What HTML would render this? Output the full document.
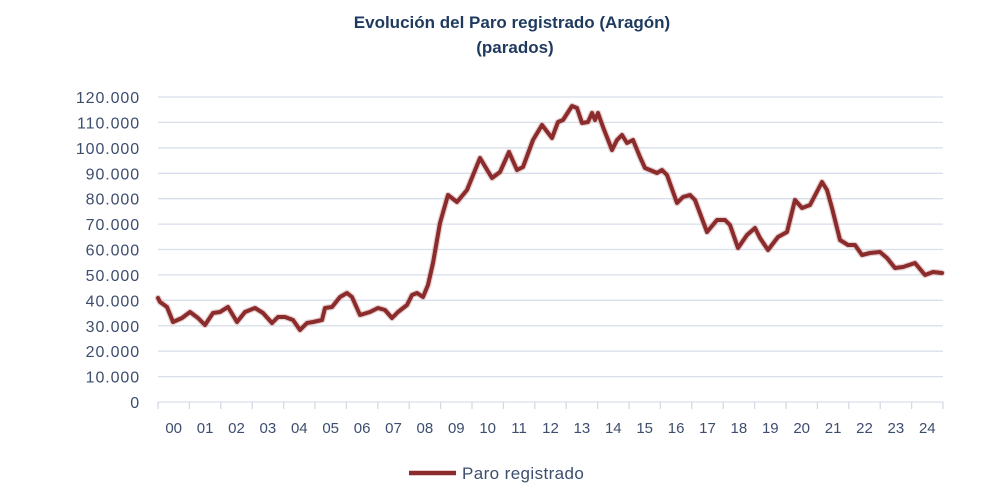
<!DOCTYPE html>
<html>
<head>
<meta charset="utf-8">
<style>
html,body{margin:0;padding:0;background:#fff;}
body{width:990px;height:491px;overflow:hidden;}
svg{display:block;}
</style>
</head>
<body>
<svg width="990" height="491" viewBox="0 0 990 491" xmlns="http://www.w3.org/2000/svg">
<rect width="990" height="491" fill="#fff"/>
<g font-family="'Liberation Sans', sans-serif" font-weight="bold" font-size="17" fill="#1F3A5F" text-anchor="middle">
<text x="512" y="28">Evolución del Paro registrado (Aragón)</text>
<text x="515" y="53">(parados)</text>
</g>
<g stroke="#D9DFEA" stroke-width="1.3">
<line x1="158" y1="97" x2="943" y2="97"/>
<line x1="158" y1="122.4" x2="943" y2="122.4"/>
<line x1="158" y1="147.8" x2="943" y2="147.8"/>
<line x1="158" y1="173.3" x2="943" y2="173.3"/>
<line x1="158" y1="198.7" x2="943" y2="198.7"/>
<line x1="158" y1="224.1" x2="943" y2="224.1"/>
<line x1="158" y1="249.5" x2="943" y2="249.5"/>
<line x1="158" y1="274.9" x2="943" y2="274.9"/>
<line x1="158" y1="300.3" x2="943" y2="300.3"/>
<line x1="158" y1="325.8" x2="943" y2="325.8"/>
<line x1="158" y1="351.2" x2="943" y2="351.2"/>
<line x1="158" y1="376.6" x2="943" y2="376.6"/>
<line x1="158" y1="402" x2="943" y2="402"/>
</g>
<g stroke="#D4D9E4" stroke-width="1.3" id="ticks">
<line x1="158" y1="402" x2="158" y2="409"/>
<line x1="189.4" y1="402" x2="189.4" y2="409"/>
<line x1="220.8" y1="402" x2="220.8" y2="409"/>
<line x1="252.2" y1="402" x2="252.2" y2="409"/>
<line x1="283.6" y1="402" x2="283.6" y2="409"/>
<line x1="315" y1="402" x2="315" y2="409"/>
<line x1="346.4" y1="402" x2="346.4" y2="409"/>
<line x1="377.8" y1="402" x2="377.8" y2="409"/>
<line x1="409.2" y1="402" x2="409.2" y2="409"/>
<line x1="440.6" y1="402" x2="440.6" y2="409"/>
<line x1="472" y1="402" x2="472" y2="409"/>
<line x1="503.4" y1="402" x2="503.4" y2="409"/>
<line x1="534.8" y1="402" x2="534.8" y2="409"/>
<line x1="566.2" y1="402" x2="566.2" y2="409"/>
<line x1="597.6" y1="402" x2="597.6" y2="409"/>
<line x1="629" y1="402" x2="629" y2="409"/>
<line x1="660.4" y1="402" x2="660.4" y2="409"/>
<line x1="691.8" y1="402" x2="691.8" y2="409"/>
<line x1="723.2" y1="402" x2="723.2" y2="409"/>
<line x1="754.6" y1="402" x2="754.6" y2="409"/>
<line x1="786" y1="402" x2="786" y2="409"/>
<line x1="817.4" y1="402" x2="817.4" y2="409"/>
<line x1="848.8" y1="402" x2="848.8" y2="409"/>
<line x1="880.2" y1="402" x2="880.2" y2="409"/>
<line x1="911.6" y1="402" x2="911.6" y2="409"/>
<line x1="943" y1="402" x2="943" y2="409"/>
</g>
<g font-family="'Liberation Sans', sans-serif" font-size="16" fill="#3D4D6E" text-anchor="end" letter-spacing="0.9">
<text x="140" y="103">120.000</text>
<text x="140" y="128.4">110.000</text>
<text x="140" y="153.8">100.000</text>
<text x="140" y="179.3">90.000</text>
<text x="140" y="204.7">80.000</text>
<text x="140" y="230.1">70.000</text>
<text x="140" y="255.5">60.000</text>
<text x="140" y="280.9">50.000</text>
<text x="140" y="306.3">40.000</text>
<text x="140" y="331.8">30.000</text>
<text x="140" y="357.2">20.000</text>
<text x="140" y="382.6">10.000</text>
<text x="140" y="408">0</text>
</g>
<g font-family="'Liberation Sans', sans-serif" font-size="15" fill="#3D4D6E" text-anchor="middle">
<text x="173.7" y="433">00</text>
<text x="205.1" y="433">01</text>
<text x="236.5" y="433">02</text>
<text x="267.9" y="433">03</text>
<text x="299.3" y="433">04</text>
<text x="330.7" y="433">05</text>
<text x="362.1" y="433">06</text>
<text x="393.5" y="433">07</text>
<text x="424.9" y="433">08</text>
<text x="456.3" y="433">09</text>
<text x="487.7" y="433">10</text>
<text x="519.1" y="433">11</text>
<text x="550.5" y="433">12</text>
<text x="581.9" y="433">13</text>
<text x="613.3" y="433">14</text>
<text x="644.7" y="433">15</text>
<text x="676.1" y="433">16</text>
<text x="707.5" y="433">17</text>
<text x="738.9" y="433">18</text>
<text x="770.3" y="433">19</text>
<text x="801.7" y="433">20</text>
<text x="833.1" y="433">21</text>
<text x="864.5" y="433">22</text>
<text x="895.9" y="433">23</text>
<text x="927.3" y="433">24</text>
</g>
<polyline fill="none" stroke="#C89A9A" stroke-opacity="0.45" stroke-width="6.5" stroke-linejoin="round" stroke-linecap="round"
points="158,298 160,302 167,307 173,322 182,318 190,312 198,318 205,325 213,313 220,312 228,307 237,322 245,312 255,308 263,313 272,323 278,317 285,317 293,320 300,330 307,323 313,322 322,320 325,308 332,307 340,297 347,293 352,297 360,315 370,312 378,308 385,310 392,318 398,312 407,305 412,295 417,293 423,297 428,285 433,263 440,223 448,195 457,202 467,190 480,158 492,178 500,172 509,152 517,170 523,167 533,140 542,125 552,138 558,122 563,120 572,106 577,108 582,123 588,122 592,113 595,120 598,113 603,127 612,150 617,140 622,135 627,143 633,140 640,157 645,168 650,170 657,173 662,170 667,175 677,203 683,197 690,195 695,200 707,232 717,220 725,220 730,225 738,248 747,235 755,228 760,238 768,250 778,237 787,232 795,200 802,208 810,205 822,182 827,190 832,208 840,240 848,245 855,245 862,255 870,253 880,252 887,258 895,268 903,267 915,263 925,275 933,272 942,273"/>
<polyline fill="none" stroke="#8B2B2B" stroke-width="4" stroke-linejoin="round" stroke-linecap="round"
points="158,298 160,302 167,307 173,322 182,318 190,312 198,318 205,325 213,313 220,312 228,307 237,322 245,312 255,308 263,313 272,323 278,317 285,317 293,320 300,330 307,323 313,322 322,320 325,308 332,307 340,297 347,293 352,297 360,315 370,312 378,308 385,310 392,318 398,312 407,305 412,295 417,293 423,297 428,285 433,263 440,223 448,195 457,202 467,190 480,158 492,178 500,172 509,152 517,170 523,167 533,140 542,125 552,138 558,122 563,120 572,106 577,108 582,123 588,122 592,113 595,120 598,113 603,127 612,150 617,140 622,135 627,143 633,140 640,157 645,168 650,170 657,173 662,170 667,175 677,203 683,197 690,195 695,200 707,232 717,220 725,220 730,225 738,248 747,235 755,228 760,238 768,250 778,237 787,232 795,200 802,208 810,205 822,182 827,190 832,208 840,240 848,245 855,245 862,255 870,253 880,252 887,258 895,268 903,267 915,263 925,275 933,272 942,273"/>
<line x1="409" y1="473" x2="456" y2="473" stroke="#8B2B2B" stroke-width="4.5"/>
<text x="462" y="479" font-family="'Liberation Sans', sans-serif" font-size="17" fill="#3D4D6E" letter-spacing="0.4">Paro registrado</text>
</svg>
</body>
</html>
